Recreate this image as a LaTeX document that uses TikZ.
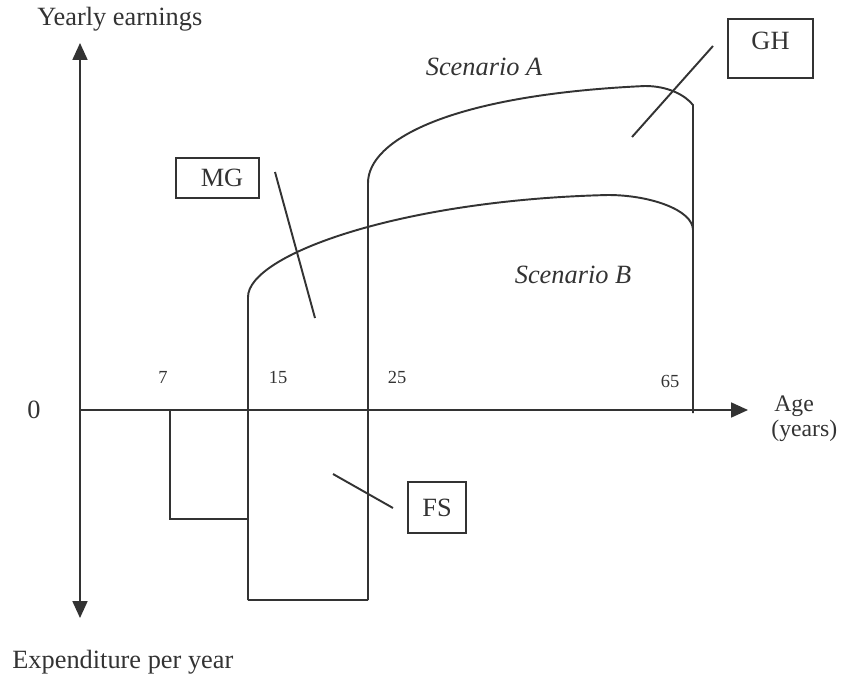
\documentclass[tikz,border=0pt]{standalone}
\usepackage{fontspec}
\setmainfont{Liberation Serif}
\usetikzlibrary{arrows.meta}
\definecolor{trazo}{HTML}{333333}

\begin{document}
\begin{tikzpicture}[x=0.02cm, y=-0.02cm,
  >={Triangle[width=8.5pt,length=9.6pt]},
  eje/.style={draw=trazo, line width=1pt},
  linea/.style={draw=trazo, line width=0.9pt},
  curva/.style={draw=trazo, line width=1.1pt},
  guia/.style={draw=trazo, line width=1.1pt},
  caja/.style={draw=trazo, line width=1.2pt, text=trazo, inner sep=0pt,
    font=\fontsize{15}{15}\selectfont},
  rotulo/.style={text=trazo, inner sep=0pt, font=\fontsize{15}{15}\selectfont},
  marca/.style={text=trazo, inner sep=0pt, font=\fontsize{10.5}{11}\selectfont}]
\useasboundingbox (0,0) rectangle (855,683);

% Ejes: ingresos hacia arriba, gastos hacia abajo, edad a la derecha
\coordinate (o) at (80,410);
\coordinate (ytop) at (80,43);
\coordinate (ybot) at (80,618);
\coordinate (xend) at (748,410);
\draw[eje, <->] (ybot) -- (ytop);
\draw[eje, ->] (o) -- (xend);

% Etiquetas de los ejes
\node[rotulo, anchor=base west] (ingresos) at (37,25) {Yearly earnings};
\node[rotulo, anchor=base west] (gastos) at (12,668) {Expenditure per year};
\node[rotulo] (cero) at (34,410) {0};
\node[rotulo, font=\fontsize{13.5}{14}\selectfont, anchor=base west] (edad) at (774,411) {Age};
\node[rotulo, font=\fontsize{13.5}{14}\selectfont, anchor=base west] (anos) at (771,436) {(years)};

% Edades sobre el eje
\foreach \e/\xx/\yy in {7/163/377, 15/278/377, 25/397/377, 65/670/381} {
  \node[marca] (t\e) at (\xx,\yy) {\e};
}

% Gastos (7-15 y 15-25 anos)
\draw[linea] (170,410) -- (170,519) -- (248,519);
\draw[linea] (248,600) -- (368,600);

% Escenario B: trabajo desde los 15 anos
\draw[curva] (248,600) -- (248,297)
  .. controls (248,255) and (400,200) .. (608,195);
\draw[curva] (608,195) .. controls (650,195) and (693,210) .. (693,230);

% Escenario A: trabajo desde los 25 anos
\draw[curva] (368,600) -- (368,183)
  .. controls (368,140) and (450,95) .. (645,86);
\draw[curva] (645,86) .. controls (668,86) and (685,95) .. (693,105)
  -- (693,413);

% Nombres de los escenarios
\node[rotulo, font=\fontsize{15}{15}\selectfont\itshape, anchor=base] (escA) at (484,75) {Scenario A};
\node[rotulo, font=\fontsize{15}{15}\selectfont\itshape, anchor=base] (escB) at (573,283) {Scenario B};

% Cajas y lineas guia
\node[caja, minimum width=1.66cm, minimum height=0.8cm] (mg) at (217.5,178) {\hspace{0.18cm}MG};
\node[caja, minimum width=1.7cm, minimum height=1.18cm, text depth=8.5pt] (gh) at (770.5,48.5) {GH\hspace{0.22cm}};
\node[caja, minimum width=1.16cm, minimum height=1.02cm] (fs) at (437,507.5) {FS};

\coordinate (mg1) at (275,172);
\coordinate (mg2) at (315,318);
\coordinate (gh1) at (713,46);
\coordinate (gh2) at (632,137);
\coordinate (fs1) at (393,508);
\coordinate (fs2) at (333,474);
\draw[guia] (mg1) -- (mg2);
\draw[guia] (gh1) -- (gh2);
\draw[guia] (fs1) -- (fs2);
\end{tikzpicture}
\end{document}
